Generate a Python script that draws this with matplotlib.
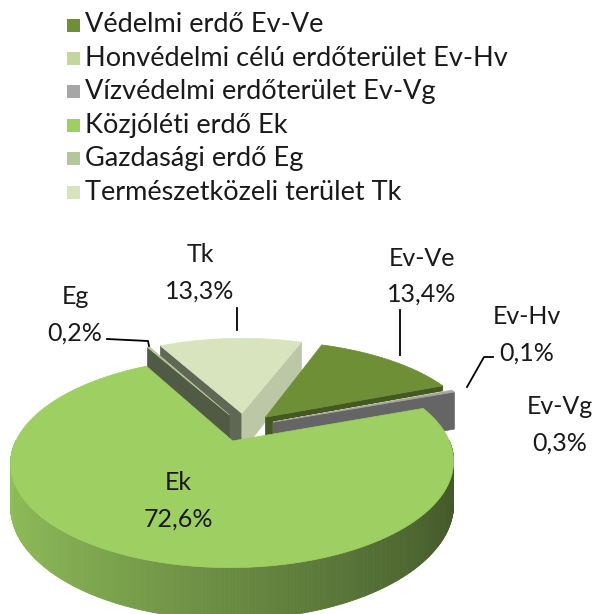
import numpy as np
import matplotlib
matplotlib.use("Agg")
import matplotlib.pyplot as plt
from matplotlib.patches import Polygon, Rectangle
from matplotlib.colors import to_rgb

plt.rcParams['font.family'] = ['Lato', 'DejaVu Sans']

# data
short_names = ['Ev-Ve', 'Ev-Hv', 'Ev-Vg', 'Ek', 'Eg', 'Tk']
long_names = ['Védelmi erdő Ev-Ve',
              'Honvédelmi célú erdőterület Ev-Hv',
              'Vízvédelmi erdőterület Ev-Vg',
              'Közjóléti erdő Ek',
              'Gazdasági erdő Eg',
              'Természetközeli terület Tk']
shares = [13.4, 0.1, 0.3, 72.6, 0.2, 13.3]
colors = ['#6f8f36', '#c3d69b', '#a6a6a6', '#9dcf62', '#b3c79a', '#d7e4bd']

# 3d pie geometry, in pixels
CX, CY = 244, 447
RX, RY = 215, 99
PERSP = 0.2
DEPTH = 40
EXPLODE = 0.15
START = 20  # degrees clockwise from 12 o'clock

# label layout
label_xy = [(422, 258), (527, 317), (560, 407), (178, 483), (75, 297), (200, 255)]
leaders = [[(400, 310), (400, 355)],
           [(493, 357), (484, 357), (467, 387)],
           None,
           None,
           [(107, 339), (148, 341), (149, 346)],
           [(237, 308), (237, 330)]]
TXT = '#1a1a1a'


def project(u, v, down=0.0):
    w = 1 + PERSP * v
    x = CX + RX * u * np.sqrt(1 - PERSP ** 2) / w
    y = CY - RY * (v + PERSP) / w + down * DEPTH / w
    return x, y


def shade(color, f):
    r, g, b = to_rgb(color)
    return (r * f, g * f, b * f)


fig = plt.figure(figsize=(6, 6.14), dpi=100)
ax = fig.add_axes([0, 0, 1, 1])
ax.set_xlim(0, 600)
ax.set_ylim(614, 0)
ax.axis('off')

total = sum(shares)
bounds = START + 360 * np.cumsum([0] + shares) / total
mids = (bounds[:-1] + bounds[1:]) / 2
order = sorted(range(len(shares)), key=lambda i: -np.cos(np.radians(mids[i])))

for i in order:
    a0, a1 = bounds[i], bounds[i + 1]
    m = np.radians(mids[i])
    ou, ov = EXPLODE * np.sin(m), EXPLODE * np.cos(m)
    n = max(3, int((a1 - a0) * 2))
    th = np.radians(np.linspace(a0, a1, n))
    au, av = ou + np.sin(th), ov + np.cos(th)

    # radial walls
    for a, nrm in ((a0, a0 - 90), (a1, a1 + 90)):
        nr = np.radians(nrm)
        if np.cos(nr) >= 0:
            continue
        eu, ev = ou + np.sin(np.radians(a)), ov + np.cos(np.radians(a))
        pts = [project(ou, ov), project(eu, ev), project(eu, ev, 1), project(ou, ov, 1)]
        f = 0.45 + 0.45 * max(0.0, np.sin(nr))
        ax.add_patch(Polygon(pts, closed=True, facecolor=shade(colors[i], f),
                             edgecolor=shade(colors[i], f), lw=0.5))

    # curved outer side, shaded by angle
    for k in range(n - 1):
        tm = (th[k] + th[k + 1]) / 2
        if np.cos(tm) >= 0:
            continue
        f = 0.92 - 0.5 * (1 + np.sin(tm)) / 2
        pts = [project(au[k], av[k]), project(au[k + 1], av[k + 1]),
               project(au[k + 1], av[k + 1], 1), project(au[k], av[k], 1)]
        ax.add_patch(Polygon(pts, closed=True, facecolor=shade(colors[i], f),
                             edgecolor=shade(colors[i], f), lw=0.6))

    # top face
    top = [project(ou, ov)] + [project(u, v) for u, v in zip(au, av)]
    ax.add_patch(Polygon(top, closed=True, facecolor=colors[i],
                         edgecolor=colors[i], lw=0.5))

# data labels
for i, name in enumerate(short_names):
    x, y = label_xy[i]
    pct = f"{shares[i]:.1f}%".replace('.', ',')
    ax.text(x, y, name, ha='center', va='center', fontsize=18, color=TXT)
    ax.text(x, y + 36, pct, ha='center', va='center', fontsize=18, color=TXT)
    if leaders[i]:
        xs, ys = zip(*leaders[i])
        ax.plot(xs, ys, color='black', lw=1.3)

# legend
for k, name in enumerate(long_names):
    y = 25 + 33.4 * k
    ax.add_patch(Rectangle((67, y - 6.5), 13, 13, facecolor=colors[k], edgecolor='none'))
    ax.text(85, y, name, ha='left', va='center', fontsize=19.5, color=TXT)

fig.savefig('out.png', dpi=100)
